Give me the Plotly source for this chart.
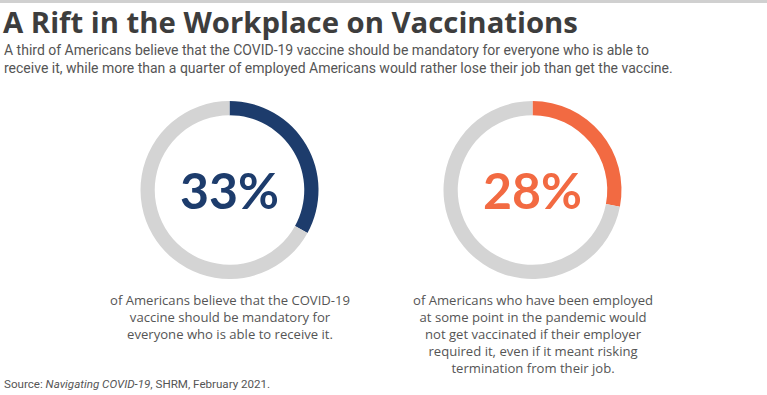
import plotly.graph_objects as go

W, H = 767, 395

title = "A Rift in the Workplace on Vaccinations"
subtitle = ("A third of Americans believe that the COVID-19 vaccine should be mandatory for everyone who is able to<br>"
            "receive it, while more than a quarter of employed Americans would rather lose their job than get the vaccine.")
labels = ["Yes", "Other"]
share_mandatory = [33, 67]
share_refuse = [28, 72]
big_labels = ["33%", "28%"]
descriptions = [
    "of Americans believe that the COVID-19<br>vaccine should be mandatory for<br>everyone who is able to receive it.",
    "of Americans who have been employed<br>at some point in the pandemic would<br>not get vaccinated if their employer<br>required it, even if it meant risking<br>termination from their job.",
]
source = "Source: <i>Navigating COVID-19</i>, SHRM, February 2021."

NAVY = "#1d3c6c"
ORANGE = "#f26a42"
GREY = "#d4d4d4"
TEXT = "#555555"

def px_x(x):
    return x / W

def px_y(y):
    return 1 - y / H

R = 89
centers = [(229.5, 190), (532.5, 190)]
series = [share_mandatory, share_refuse]
colors = [NAVY, ORANGE]

fig = go.Figure()
for (cx, cy), vals, col in zip(centers, series, colors):
    fig.add_trace(go.Pie(
        labels=labels, values=vals, sort=False, direction="clockwise", rotation=0,
        hole=0.84, textinfo="none", hoverinfo="skip", showlegend=False,
        marker=dict(colors=[col, GREY], line=dict(width=0)),
        domain=dict(x=[px_x(cx - R), px_x(cx + R)], y=[px_y(cy + R), px_y(cy - R)]),
    ))

ann = []
ann.append(dict(text="<b>" + title + "</b>", x=px_x(1), y=px_y(22), xanchor="left", yanchor="middle",
                font=dict(family="Open Sans", size=29.3, color="#3d3d3d")))
ann.append(dict(text=subtitle, x=px_x(2), y=px_y(59), xanchor="left", yanchor="middle", align="left",
                font=dict(family="Roboto", size=14, color=TEXT)))
for (cx, cy), big, col in zip(centers, big_labels, colors):
    ann.append(dict(text="<b>" + big + "</b>", x=px_x(cx), y=px_y(cy), xanchor="center", yanchor="middle",
                    font=dict(family="Lato", size=50, color=col, weight=900)))
desc_tops = [289, 289]
for (cx, cy), d, top in zip(centers, descriptions, desc_tops):
    ann.append(dict(text=d, x=px_x(cx), y=px_y(top), xanchor="center", yanchor="top", align="center",
                    font=dict(family="Open Sans", size=13.1, color=TEXT)))
ann.append(dict(text=source, x=px_x(2), y=px_y(384), xanchor="left", yanchor="middle",
                font=dict(family="Roboto", size=11.6, color=TEXT)))
for a in ann:
    a.update(xref="paper", yref="paper", showarrow=False)

fig.update_layout(
    width=W, height=H, margin=dict(l=0, r=0, t=0, b=0),
    paper_bgcolor="white", plot_bgcolor="white",
    annotations=ann,
    shapes=[dict(type="rect", xref="paper", yref="paper", x0=0, x1=1, y0=px_y(3), y1=1,
                 fillcolor="#d0d0d0", line=dict(width=0))],
)
fig.write_html("out.html", config={"displayModeBar": False},
               post_script="document.body.style.margin='0';")
